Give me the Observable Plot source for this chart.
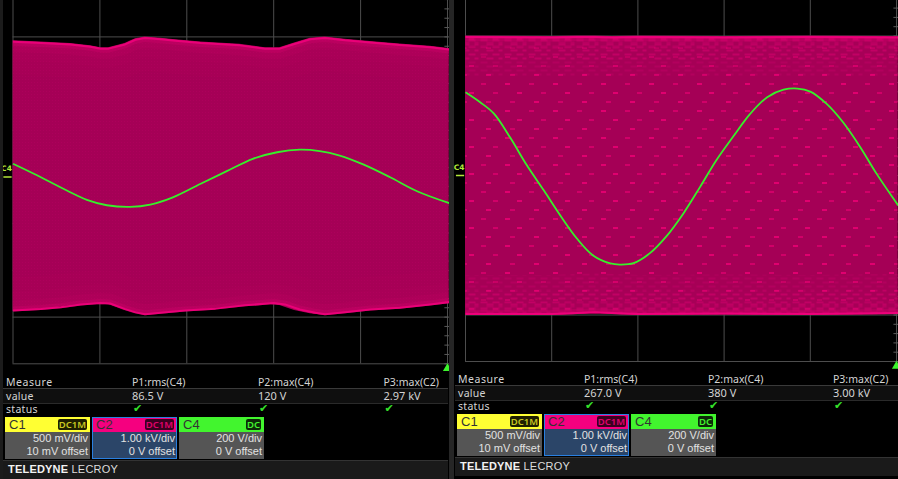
<!DOCTYPE html>
<html><head><meta charset="utf-8">
<script src="https://cdn.jsdelivr.net/npm/d3@7"></script>
<script src="https://cdn.jsdelivr.net/npm/@observablehq/plot@0.6"></script>
<style>
html,body{margin:0;padding:0;background:#000;width:898px;height:479px;overflow:hidden;font-family:"Noto Sans",sans-serif}
.a{position:absolute;white-space:nowrap}
svg{display:block;overflow:hidden}
</style></head><body>
<div id="root" style="position:relative;width:898px;height:479px;overflow:hidden"></div>
<script>
// ---- left capture ----
const leftTopT = [0,.32,.66,.89,1.01,1.10,1.29,1.41,1.52,1.70,1.87,2.16,2.61,2.90,3.07,3.24,3.42,3.59,3.82,4.11,4.45,4.80,5.02];
const leftTopKV = [2.92,2.89,2.86,2.81,2.77,2.77,2.86,2.96,3.00,2.97,2.94,2.89,2.84,2.77,2.77,2.87,2.97,3.00,2.95,2.90,2.85,2.80,2.75];
const leftBotT = [0,.32,.55,.78,1.0,1.12,1.29,1.41,1.52,1.70,1.98,2.33,2.67,3.0,3.13,3.30,3.48,3.59,3.82,4.11,4.45,4.80,5.02];
const leftBotKV = [-2.88,-2.85,-2.81,-2.75,-2.72,-2.73,-2.85,-2.92,-2.96,-2.93,-2.88,-2.84,-2.77,-2.72,-2.75,-2.86,-2.93,-2.96,-2.92,-2.86,-2.82,-2.75,-2.70];
const leftC4T = [0,.24,.62,.85,1.08,1.35,1.58,1.84,2.16,2.46,2.76,3.04,3.30,3.53,3.76,4.03,4.34,4.65,5.02];
const leftC4V = [57,14,-58,-98,-121,-128,-118,-87,-29,25,78,106,117,111,92,54,-1,-61,-112];
// ---- right capture ----
const rightEnvT = [0,1,1.3,1.5,1.7,2,3,4,5.02];
const rightTopKV = [3.0,2.99,3.0,3.0,2.99,3.0,2.99,3.0,2.99];
const rightBotKV = [-3.0,-3.0,-2.98,-2.96,-2.98,-3.0,-2.99,-3.0,-2.98];
const rightC4T = [0,.17,.33,.52,.71,.91,1.10,1.29,1.48,1.68,1.79,1.95,2.14,2.33,2.53,2.72,2.91,3.11,3.30,3.50,3.69,3.85,4.0,4.19,4.38,4.58,4.77,5.02];
const rightC4V = [358,315,266,162,45,-65,-172,-270,-344,-378,-383,-377,-334,-262,-162,-50,66,170,264,337,369,374,361,308,229,122,7,-129];
// ---- grid ----
const gridX = [0,1,2,3,4,5];
const gridY = [-4,-3,-2,-1,0,1,2,3,4];
const minorY = d3.range(-20,21).map(d=>d/5);
const c4PerDiv = 200;
// ---- readout ----
const measureHeads = ["P1:rms(C4)","P2:max(C4)","P3:max(C2)"];
const leftValues = ["86.5 V","120 V","2.97 kV"];
const rightValues = ["267.0 V","380 V","3.00 kV"];
const channels = ["C1","C2","C4"];
const couplings = ["DC1M","DC1M","DC"];
const scalesText = ["500 mV/div","1.00 kV/div","200 V/div"];
const offsets = ["10 mV offset","0 V offset","0 V offset"];

const root = document.getElementById("root");
function patterns(idBase){
  return () => {
    const defs = d3.create("svg:defs");
    const g = defs.append("pattern").attr("id",idBase+"g").attr("patternUnits","userSpaceOnUse").attr("width",3).attr("height",3);
    g.append("rect").attr("width",3).attr("height",3).attr("fill","#a50056");
    g.append("rect").attr("x",1).attr("y",1).attr("width",1).attr("height",1).attr("fill","#ad005b");
    const s = defs.append("pattern").attr("id",idBase+"s").attr("patternUnits","userSpaceOnUse").attr("width",48).attr("height",27);
    s.append("rect").attr("width",48).attr("height",27).attr("fill","#a50056");
    [[3,2,"#e0006f"],[27,2,"#d00068"],[15,11,"#e0006f"],[39,11,"#d00068"],[8,20,"#d00068"],[32,20,"#e0006f"]].forEach(([x,y,c])=>
      s.append("rect").attr("x",x).attr("y",y).attr("width",5).attr("height",2).attr("fill",c));
    const e = defs.append("pattern").attr("id",idBase+"e").attr("patternUnits","userSpaceOnUse").attr("width",24).attr("height",8);
    e.append("rect").attr("width",24).attr("height",8).attr("fill","#a80058");
    [[2,1],[14,1],[8,5],[20,5]].forEach(([x,y])=>
      e.append("rect").attr("x",x).attr("y",y).attr("width",7).attr("height",2).attr("fill","#e40074"));
    return defs.node();
  };
}
function scope({left,width,xr,yr,topT,topKV,botT,botKV,c4T,c4V,id,textured}){
  const top = topT.map((t,i)=>({t,v:topKV[i]}));
  const bot = botT.map((t,i)=>({t,v:botKV[i]}));
  const band = topT.map((t,i)=>({t,hi:topKV[i],lo:d3.bisectLeft(botT,t)<botT.length?botKV[d3.bisectLeft(botT,t)]:botKV[botKV.length-1]}));
  const c4 = c4T.map((t,i)=>({t,y:c4V[i]/c4PerDiv}));
  const opt = {x:"t",y:"v",strokeLinecap:"butt",strokeLinejoin:"round"};
  const soft = (data,sgn,w,o,c=`url(#${id}e)`)=>Plot.line(data,{...opt,stroke:c,strokeWidth:w,dy:sgn*w/2,strokeOpacity:o});
  const edges = (data,sgn)=>textured?[
    soft(data,sgn,40,.22), soft(data,sgn,24,.3), soft(data,sgn,12,.4),
    soft(data,sgn,5,.35,"#d8006e"), soft(data,sgn,2,1,"#ee007a")
  ]:[
    soft(data,sgn,34,.06,"#c40066"), soft(data,sgn,20,.09,"#c40066"), soft(data,sgn,11,.14,"#d0006a"),
    soft(data,sgn,5,.3,"#d8006e"), soft(data,sgn,2,1,"#ea0078")
  ];
  const p = Plot.plot({
    width,height:372,margin:0,
    style:{background:"transparent",overflow:"hidden"},
    x:{domain:[0,5],range:xr,axis:null},
    y:{domain:[-4,4],range:yr,axis:null},
    marks:[
      patterns(id),
      Plot.ruleX(gridX,{y1:-4,y2:4,stroke:"#4d4d4d"}),
      Plot.ruleY(gridY,{x1:0,x2:5,stroke:"#4d4d4d"}),
      Plot.ruleY(minorY,{x1:4.97,x2:5.03,stroke:"#5a5a5a"}),
      Plot.areaY(band,{x:"t",y1:"lo",y2:"hi",fill:`url(#${id}${textured?"s":"g"})`,curve:"linear"}),
      ...edges(top,1),
      ...edges(bot,-1),
      Plot.line(c4,{x:"t",y:"y",stroke:"#36f02a",strokeWidth:1.8,curve:"catmull-rom",strokeLinecap:"butt"}),
      Plot.text(["C4"],{x:[-0.075],y:[0.17],fill:"#b4e83a",fontSize:7.5,fontWeight:"bold",fontFamily:"DejaVu Sans"}),
      Plot.ruleY([0],{x1:-0.105,x2:-0.01,stroke:"#b4e83a",strokeWidth:1.5}),
      Plot.dot([{t:5,y:-4.1}],{x:"t",y:"y",symbol:"triangle",r:3.4,fill:"#3cf52c"})
    ]
  });
  p.style.position="absolute";p.style.left=left+"px";p.style.top="0";
  root.appendChild(p);
}
scope({left:0,width:449,xr:[12.5,447],yr:[363.3,-10.3],topT:leftTopT,topKV:leftTopKV,botT:leftBotT,botKV:leftBotKV,c4T:leftC4T,c4V:leftC4V,id:"L",textured:false});
scope({left:454,width:444,xr:[11,442],yr:[361,-11],topT:rightEnvT,topKV:rightTopKV,botT:rightEnvT,botKV:rightBotKV,c4T:rightC4T,c4V:rightC4V,id:"R",textured:true});

function el(css,txt){const d=document.createElement("div");d.className="a";d.style.cssText=css;if(txt!=null)d.textContent=txt;root.appendChild(d);return d;}
el("left:449px;top:0;width:5px;height:479px;background:#262626");
el("left:0;top:0;width:3px;height:479px;background:#1c1c1c");

function readout(ox,oy,vals,colX){
  const T=(x,cy,t,extra="")=>el(`left:${ox+x}px;top:${oy+cy-6}px;line-height:12px;font-size:10.5px;color:#d4d4d4;${extra}`,t);
  el(`left:${ox+3}px;top:${oy+388}px;width:445px;height:14px;background:#0f0f0f;border-top:1px solid #3a3a3a;border-bottom:1px solid #2a2a2a`);
  T(6,381.5,"Measure","letter-spacing:.55px");T(6,395.5,"value","letter-spacing:.3px");T(6,409,"status","letter-spacing:.3px");
  measureHeads.forEach((h,i)=>{
    T(colX[i],381.5,h);T(colX[i],395.5,vals[i],"font-size:11px");
    T(colX[i]+1,409,"✔","color:#35e02a;font-size:11px;font-family:'DejaVu Sans'");
  });
  const bx=[5,92,179], hc=["#ffff33","#f5007f","#42f52e"], bc=["#1f1f00","#3a0020","#0d2a08"], tc=["#c8c820","#e0006c","#42f52e"], body=["#555","#2b4568","#555"];
  channels.forEach((c,i)=>{
    const x=ox+bx[i],y=oy+416.5;
    el(`left:${x}px;top:${y}px;width:85px;height:42px;background:${body[i]};${i==1?"outline:1.5px solid #2a80e0;outline-offset:-1px;":""}`);
    el(`left:${x+(i==1?1:0)}px;top:${y+(i==1?1:0)}px;width:${i==1?83:85}px;height:${i==1?14:15}px;background:${hc[i]}`);
    el(`left:${x+4}px;top:${y+1}px;line-height:13px;font-size:13px;color:#333;font-family:'Liberation Sans'`,c);
    const w=i==2?15:29;
    el(`left:${x+85-w-3}px;top:${y+2}px;width:${w}px;height:11px;line-height:11px;background:${bc[i]};color:${tc[i]};font-size:9.5px;text-align:center;border-radius:2px;font-weight:600`,couplings[i]);
    const bt=`left:${x}px;width:83px;text-align:right;line-height:13px;font-size:11px;color:#e2e2e2;font-family:'Liberation Sans'`;
    el(`${bt};top:${y+15}px`,scalesText[i]);
    el(`${bt};top:${y+28}px`,offsets[i]);
  });
  el(`left:${ox+3}px;top:${oy+459.5}px;width:445px;height:18px;background:#1a1a1a;border-top:1.5px solid #333`);
  const lg=el(`left:${ox+8}px;top:${oy+461}px;line-height:17px;font-size:11px;color:#ddd;letter-spacing:.2px;font-family:'Liberation Sans'`);
  lg.innerHTML='<b style="color:#f2f2f2">TELEDYNE</b> LECROY';
}
readout(0,0,leftValues,[132,258,383.5]);
readout(452,-3,rightValues,[132,256,381]);
</script>
</body></html>
